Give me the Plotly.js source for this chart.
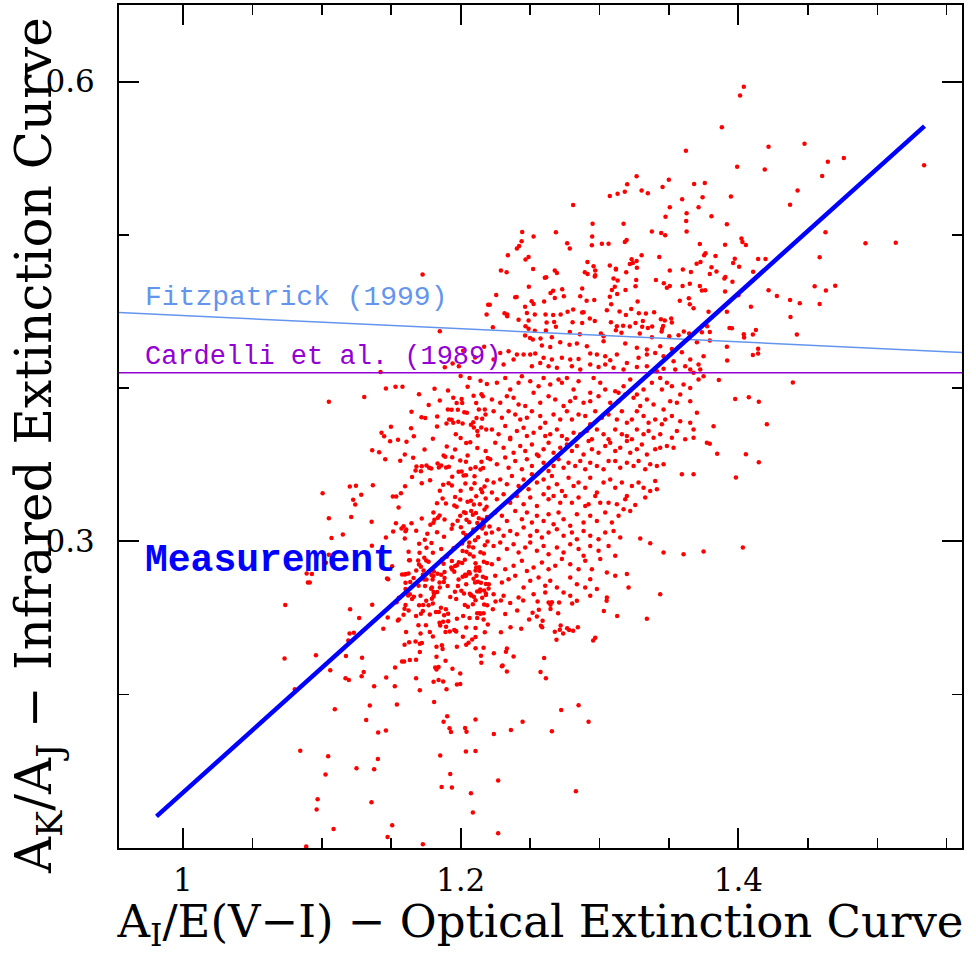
<!DOCTYPE html>
<html>
<head>
<meta charset="utf-8">
<script src="https://cdn.plot.ly/plotly-3.0.1.min.js"></script>
<style>html,body{margin:0;padding:0;background:#fff}#chart{width:976px;height:953px}</style>
</head>
<body>
<div id="chart"></div>
<script>
// ---- Data ----
const xRange = [0.954, 1.561];
const yRange = [0.10, 0.65];

// Fitzpatrick (1999) relation
const fitzX = [0.954, 1.561];
const fitzY = [0.4493, 0.4233];
// Cardelli et al. (1989) relation
const cardX = [0.954, 1.561];
const cardY = [0.410, 0.410];
// Measurement (fitted line)
const measX = [0.981, 1.534];
const measY = [0.1206, 0.571];

// individual stars [A_I/E(V-I), A_K/A_J]
const stars = [
[1.1726,.4741],[1.2198,.4545],[1.2187,.448],[1.185,.4371],
[1.3622,.5549],[1.3267,.5382],[1.3499,.536],[1.3199,.533],[1.3454,.5313],[1.3681,.5332],[1.3758,.5339],[1.3074,.5254],[1.313,.5269],[1.3182,.5282],[1.3303,.529],[1.3348,.5271],[1.3595,.5232],[1.3742,.5245],[1.281,.5195],[1.3506,.518],[1.3713,.518],[1.3475,.5119],[1.3627,.5141],[1.3624,.5091],[1.295,.5073],[1.3173,.5073],[1.3627,.5023],[1.2443,.5019],[1.2525,.4989],[1.2686,.5017],[1.2947,.4989],[1.3377,.5023],[1.3444,.5013],[1.3473,.4997],
[1.2439,.4958],[1.2421,.4928],[1.2405,.4912],[1.2767,.4945],[1.2786,.4912],[1.2945,.4932],[1.3017,.4943],[1.3065,.4943],[1.3182,.4954],[1.3195,.4967],[1.3722,.4941],[1.234,.4867],[1.2467,.4839],[1.2489,.4856],[1.3303,.4867],[1.343,.4856],[1.3753,.4867],[1.3763,.488],
[1.2913,.4824],[1.3231,.4841],[1.3267,.483],[1.3218,.4811],[1.324,.4817],[1.3074,.48],[1.3118,.478],[1.3118,.4774],[1.3269,.4786],[1.3506,.4767],[1.36,.4775],[1.3658,.4758],[1.3699,.4812],[1.3727,.4824],[1.229,.4767],[1.2331,.4756],[1.2522,.4778],[1.2678,.4767],[1.2693,.4752],[1.2894,.4756],[1.2914,.4745],[1.2957,.4795],[1.2969,.4767],[1.2969,.4736],[1.2966,.4728],[1.3192,.4756],[1.2606,.4721],[1.2616,.4723],[1.3101,.4715],[1.313,.4702],[1.3264,.4706],[1.3406,.4706],[1.3463,.4684],[1.3485,.4656],[1.3506,.4667],[1.3598,.4667],[1.365,.4682],[1.3722,.4667],[1.3737,.4637],[1.3761,.4639],
[1.2491,.4661],[1.2256,.4608],[1.2393,.4593],[1.2403,.4595],[1.2666,.4636],[1.2647,.4621],[1.2731,.4645],[1.2743,.4599],[1.2875,.465],[1.2861,.4599],[1.2962,.4576],[1.2907,.4571],[1.3089,.4641],[1.311,.4661],[1.3127,.4615],[1.3187,.4641],[1.3259,.4665],[1.3074,.4597],[1.3084,.4547],[1.3274,.4565],[1.3578,.4571],[1.3643,.4586],[1.365,.4547],[1.3677,.4521],[1.2511,.4567],[1.2525,.455],[1.2601,.4565],[1.2678,.4589],[1.2464,.4532],[1.221,.4545],
[1.2316,.4489],[1.2335,.448],[1.2335,.4469],[1.2477,.4491],[1.2534,.448],[1.2611,.448],[1.2666,.4478],[1.272,.448],[1.277,.4498],[1.281,.4513],[1.2875,.4493],[1.2885,.4495],[1.293,.4454],[1.2966,.4439],[1.3053,.4508],[1.3144,.45],[1.319,.4478],[1.3228,.4517],[1.3283,.4489],[1.3334,.4487],[1.3393,.4495],[1.3442,.445],[1.347,.4441],[1.3516,.4454],[1.3521,.4428],[1.2417,.4446],[1.2489,.4441],[1.2619,.4428],[1.2673,.4432],[1.2806,.443],[1.2875,.4426],
[1.3082,.443],[1.3125,.4404],[1.3118,.4378],[1.317,.4408],[1.3218,.4402],[1.3259,.4426],[1.3312,.4439],[1.3307,.44],[1.3348,.4393],[1.3379,.4402],[1.3451,.4387],[1.3458,.4406],[1.2232,.4397],[1.2467,.4404],[1.2489,.4387],[1.2534,.4374],[1.2614,.4376],[1.2686,.44],[1.2786,.4367],[1.2858,.4352],[1.301,.4356],[1.3029,.4339],[1.3158,.4361],[1.329,.4356],[1.3377,.4332],[1.3447,.4369],[1.3502,.4339],[1.3569,.4345],[1.3607,.4369],[1.3645,.4356],[1.3785,.4498],[1.3775,.4404],[1.3737,.4365],[1.2464,.4343],[1.25,.4328],[1.2575,.4324],[1.2657,.4332],
[1.4039,.5967],[1.4012,.591],[1.3881,.5702],[1.4217,.5575],[1.4476,.5595],[1.3991,.5444],[1.419,.5427],[1.4644,.5477],[1.4759,.5502],[1.5337,.5454],[1.4603,.5384],[1.4426,.529],[1.3946,.5251],[1.4372,.5197],[1.3806,.5121],[1.3917,.5069],[1.4022,.4976],[1.4029,.4954],[1.4054,.4934],[1.3904,.4936],[1.4627,.5017],[1.4915,.4945],[1.5133,.4949],[1.3835,.4863],[1.3806,.4789],[1.3794,.4745],[1.3974,.4845],[1.3962,.4817],[1.4005,.4793],[1.4142,.4843],[1.4195,.4843],[1.3842,.4762],[1.4106,.476],[1.3906,.4726],[1.3899,.4715],[1.3957,.4695],[1.4585,.4854],[1.3904,.463],[1.4,.4606],[1.4217,.4639],[1.4277,.4602],[1.4549,.4665],[1.463,.4637],[1.4697,.4669],[1.4372,.4576],[1.4442,.4554],[1.4585,.455],[1.409,.4532],[1.3917,.4498],[1.4375,.4465],[1.3936,.4393],[1.3953,.4391],[1.4126,.438],[1.4039,.4352],[1.4041,.433],[1.4104,.435],[1.4421,.435],[1.3794,.4367],
[1.3794,.4311],[1.3917,.4271],[1.4142,.4258],[1.4104,.4217],[1.4142,.4226],[1.3919,.418],[1.3859,.4054],[1.4392,.4037],[1.3977,.393],[1.4075,.3941],[1.4147,.3911],[1.3821,.3752],[1.4205,.3765],[1.3794,.3637],[1.3847,.3572],[1.4054,.3569],[1.4147,.3517],[1.3982,.3417],[1.4032,.2961],
[1.2251,.2609],[1.229,.2615],[1.2357,.2598],[1.245,.2615],[1.2554,.2609],[1.2633,.2602],[1.2647,.2587],[1.2657,.2604],[1.2709,.2602],[1.2803,.2596],[1.2837,.2613],[1.3051,.2613],[1.2232,.2557],[1.2321,.2526],[1.2407,.255],[1.2518,.2535],[1.2563,.2555],[1.2549,.2511],[1.2647,.2559],[1.2702,.2531],[1.3031,.2546],[1.3127,.2513],[1.3341,.2496],[1.2493,.2491],[1.259,.2483],[1.2359,.2441],[1.2436,.2431],[1.2578,.245],[1.2587,.2441],[1.272,.2452],[1.2714,.2424],[1.2767,.2433],[1.2781,.2422],[1.281,.2417],[1.2844,.2441],[1.2678,.2411],[1.2738,.24],[1.229,.2407],[1.269,.2359],[1.2969,.2372],[1.2954,.2353],
[1.2239,.227],[1.2326,.2281],[1.2333,.2302],[1.2381,.225],[1.2601,.2239],[1.2297,.2185],[1.2302,.2191],[1.2333,.2152],[1.2575,.2148],[1.2614,.2107],[1.2724,.19],[1.2849,.1931],[1.2446,.1824],[1.2921,.1824],[1.2239,.1744],[1.2362,.177],[1.2657,.1761],[1.227,.144],[1.283,.137],[1.227,.1096],
[1.0891,.2791],[1.0929,.2787],[1.09,.2733],[1.103,.2861],[1.1478,.2754],[1.0737,.2585],[1.0732,.2237],[1.0958,.2257],[1.1061,.2159],[1.0806,.2035],[1.1204,.2557],[1.1269,.25],[1.12,.24],[1.1231,.2405],[1.1191,.2353],[1.1174,.2252],[1.129,.2242],[1.1363,.2587],[1.1443,.2431],[1.1475,.2504],[1.1548,.2485],[1.1555,.2491],[1.1589,.2522],[1.1596,.2561],[1.1625,.255],[1.1607,.2409],[1.1629,.2343],[1.1596,.2326],[1.1696,.2454],[1.1711,.24],[1.1706,.2333],[1.1679,.2229],[1.1634,.2226],[1.1578,.2216],[1.1593,.2216],[1.1528,.2177],[1.1464,.2113],[1.1302,.2148],[1.1287,.212],[1.1171,.2107],[1.1195,.2096],
[1.1377,.2055],[1.1526,.2055],[1.1679,.2107],[1.1706,.2029],[1.1094,.1905],[1.1346,.1929],[1.1541,.1937],[1.132,.1835],[1.1406,.1753],[1.1462,.1766],[1.1809,.1952],[1.1805,.2085],[1.1874,.2087],[1.1898,.2035],[1.1997,.2139],[1.1973,.2066],[1.1997,.207],[1.1941,.217],[1.1891,.2222],[1.1826,.2248],[1.1817,.2177],[1.1841,.2181],[1.1826,.2164],[1.1841,.2096],[1.18,.238],[1.1826,.2313],[1.1865,.2322],[1.187,.2298],[1.1721,.2337],[1.1706,.2278],
[1.1903,.1859],[1.1877,.1824],[1.192,.1781],[1.193,.1757],[1.2032,.1783],[1.2042,.1759],[1.2107,.1839],[1.2038,.1629],[1.2107,.1633],[1.1853,.1603],[1.1404,.1581],[1.125,.152],[1.1377,.1513],[1.1046,.1598],[1.1027,.1479],[1.0845,.1635],[1.097,.1318],[1.0963,.1251],[1.1358,.1298],[1.1085,.1124],[1.1507,.1148],[1.1474,.1072],[1.1728,.1024],[1.0888,.1009],[1.1925,.1483],[1.1863,.1398],[1.1937,.1394],[1.2074,.1357],[1.2088,.1231],
[1.1968,.2413],[1.1973,.2313],[1.2107,.2304],[1.2165,.2307],[1.2146,.2255],[1.2149,.2209],[1.204,.2439],[1.2107,.2435],[1.2165,.2491],[1.2119,.25],[1.2143,.2529],[1.2119,.2531],[1.2064,.25],[1.2018,.2513],[1.1973,.2496],[1.1966,.2415],[1.1954,.2422],[1.1922,.2413],[1.1874,.2476],[1.191,.248],[1.1848,.247],[1.191,.2529],[1.1894,.2557],[1.1881,.2518],[1.1858,.2568],[1.1843,.2539],[1.1822,.2539],[1.18,.2596],[1.1793,.2626],[1.1752,.2613],[1.1769,.2583],[1.173,.2585],[1.1714,.2529],[1.1728,.2546],[1.1679,.2513],[1.175,.2454],[1.1778,.2409],[1.1675,.2348],
[1.165,.2624],[1.1663,.264],[1.1622,.2648],[1.1634,.2656],[1.1603,.2689],[1.1555,.2633],[1.1539,.2604],[1.1603,.2731],[1.1578,.2785],[1.1598,.2785],[1.1507,.2839],[1.1637,.2735],[1.1697,.2711],[1.1711,.2646],[1.1738,.2752],[1.1776,.28],[1.1807,.2804],[1.1834,.2789],[1.1754,.2752],[1.1798,.2752],[1.1791,.278],[1.1879,.2735],[1.1884,.28],[1.1954,.2802],[1.1932,.283],[1.1973,.2845],[1.2011,.2859],[1.2032,.2783],[1.2042,.2783],[1.2014,.277],[1.2036,.2774],[1.2093,.2757],[1.2104,.2733],[1.2005,.2679],[1.1959,.2672],[1.2066,.2659],[1.2074,.265],[1.2119,.2674],[1.2138,.2674],[1.2169,.268],[1.1968,.2624],[1.203,.2585],[1.2052,.2574],[1.2088,.2591],[1.2107,.2617],[1.2155,.2633],[1.2169,.2589],[1.2191,.2583],[1.2138,.2531],[1.2165,.2531],
[1.2146,.2731],[1.2182,.2761],[1.2182,.2722],[1.2107,.2811],[1.2133,.2832],[1.1884,.2761],[1.2066,.2791],[1.1634,.2878],[1.1714,.2835],[1.1752,.2876],[1.1865,.2883],[1.1937,.2872],[1.1625,.2791],[1.1728,.2783],[1.1793,.27],[1.1805,.267],[1.1809,.2659],[1.1831,.267],[1.1848,.2733],[1.1744,.2709],[1.1603,.2585],[1.1701,.2583],[1.1778,.2524],[1.1853,.2452],[1.1891,.2409],[1.1895,.2444],[1.2016,.2378],[1.204,.2326],[1.2057,.2339],[1.2083,.2361],[1.2107,.2376],[1.2174,.2407],[1.2196,.2459],[1.2203,.272],[1.2182,.2661],
[1.1423,.4106],[1.1886,.4136],[1.1942,.4161],[1.1987,.4143],[1.1462,.3998],[1.1531,.4009],[1.1581,.4009],[1.1812,.3996],[1.1909,.3985],[1.2064,.4067],[1.2143,.4048],[1.2189,.4028],[1.2093,.395],[1.216,.3947],[1.1947,.3937],[1.2007,.393],[1.1971,.3904],[1.2011,.3904],[1.2112,.3904],[1.1051,.3911],[1.1306,.3943],[1.1646,.3847],[1.1718,.381],[1.1745,.3806],[1.1831,.3815],[1.1908,.3861],[1.1935,.3859],[1.1917,.3796],[1.1935,.3794],[1.1898,.377],[1.1947,.3774],[1.1983,.3781],[1.2014,.377],[1.2026,.3843],[1.2045,.3839],[1.2074,.3761],[1.2091,.3778],[1.2114,.3806],[1.2155,.38],[1.2131,.3861],[1.2174,.3861],[1.2179,.3828],[1.2095,.3743],[1.2148,.3743],[1.2124,.3691],[1.204,.3643],[1.2069,.3648],[1.2184,.373],
[1.1498,.3748],[1.1643,.3739],[1.1663,.3687],[1.143,.3709],[1.1449,.3687],[1.1549,.3663],[1.1492,.3654],[1.1363,.3595],[1.1413,.3582],[1.1457,.3537],[1.1598,.3567],[1.1565,.3526],[1.1658,.3546],[1.1682,.3489],[1.172,.3491],[1.1754,.3496],[1.1773,.3481],[1.1675,.3463],[1.1714,.3458],[1.1788,.3476],[1.1843,.3483],[1.186,.3496],[1.1877,.3561],[1.1889,.3552],[1.1895,.3483],[1.1915,.3487],[1.1834,.3509],[1.1939,.355],[1.1997,.3528],[1.2038,.352],[1.1985,.3454],[1.2007,.3456],[1.2038,.3432],[1.2021,.343],[1.1939,.3422],[1.1874,.337],[1.1913,.338],[1.1937,.3365],[1.2071,.3474],[1.2107,.3484],[1.2143,.3469],[1.2162,.348],[1.21,.3426],[1.2034,.3378],[1.2146,.3341],[1.2172,.3359],[1.2076,.3344],[1.2112,.3295],[1.2155,.3321],
[1.1368,.3367],[1.1202,.3359],[1.1246,.3363],[1.1284,.3304],[1.1226,.3272],[1.1241,.3241],[1.1512,.3293],[1.1536,.3293],[1.157,.3315],[1.1553,.3222],[1.1006,.3315],[1.1051,.3152],[1.1212,.3159],[1.1359,.3128],[1.1152,.3046],[1.107,.3022],[1.1361,.2972],[1.1462,.3026],[1.1514,.3065],[1.1534,.3119],[1.1589,.31],[1.1603,.3067],[1.1608,.3078],[1.1574,.3085],[1.1598,.302],[1.1646,.3119],[1.1701,.2985],[1.1742,.3011],[1.1754,.2959],[1.1804,.3189],[1.1811,.3141],[1.1782,.3109],[1.1804,.3122],[1.1848,.317],[1.1836,.3155],[1.1884,.3143],[1.1942,.3109],[1.1894,.3248],[1.1954,.3235],[1.1971,.3226],[1.1997,.3274],[1.205,.3259],[1.2074,.3265],[1.2095,.3241],
[1.2036,.3185],[1.2076,.3198],[1.2088,.3174],[1.211,.3185],[1.1997,.3168],[1.2024,.3191],[1.1978,.3135],[1.2042,.3141],[1.2062,.3126],[1.2002,.3093],[1.2131,.3152],[1.2158,.3141],[1.2172,.3209],[1.2187,.3226],[1.2138,.3243],[1.1935,.3083],[1.2019,.3057],[1.2091,.3078],[1.2155,.3085],[1.2167,.3102],[1.2208,.3098],[1.2182,.3052],[1.2126,.3028],[1.2104,.3008],[1.2062,.2993],[1.2059,.2967],[1.2011,.2987],[1.1949,.2956],[1.2014,.2937],[1.2042,.2933],[1.2066,.2917],[1.2093,.2902],[1.2143,.293],[1.2167,.2922],[1.2174,.2976],[1.2193,.3],
[1.2167,.2868],[1.2107,.2857],[1.2112,.283],[1.2136,.2809],[1.1987,.2865],[1.1939,.2817],[1.1877,.2855],[1.186,.2783],[1.1793,.2817],[1.1804,.2774],[1.1733,.2811],[1.1738,.2894],[1.1769,.2868],[1.18,.2926],[1.1704,.2926],[1.1694,.2876],[1.1625,.2933],[1.1629,.2878],[1.1606,.2787],[1.1661,.2761],[1.147,.2759],[1.0914,.2733],[1.1051,.2913],[1.1985,.2752],[1.204,.272],[1.2114,.2776],[1.2124,.2737],[1.2141,.2687],[1.2024,.2661],[1.2076,.2648],[1.2095,.264],[1.1906,.2709],[1.1925,.2637],[1.1787,.2691],[1.1805,.2641],[1.2182,.265],[1.2201,.2693],
[1.2169,.4271],[1.2104,.42],[1.2018,.4245],
[1.1965,.370],[1.200,.3675],[1.212,.361],[1.218,.359],[1.205,.356],[1.190,.362],[1.196,.360],[1.215,.352],[1.2195,.3545],[1.210,.338],[1.219,.340],[1.200,.333],[1.196,.329],[1.218,.328],[1.187,.328],[1.185,.333],[1.212,.312],[1.219,.316],[1.204,.304],[1.188,.303],[1.183,.306],[1.179,.299],[1.190,.290],[1.186,.295],[1.203,.288],[1.209,.296],[1.196,.284],[1.219,.286],[1.206,.280],[1.198,.271],[1.216,.277],[1.185,.270],[1.170,.285],[1.168,.281],[1.176,.305],[1.172,.315],[1.168,.307],[1.183,.325],[1.178,.340],[1.172,.338],[1.165,.342],[1.160,.336],[1.161,.365],[1.174,.360],[1.180,.367],[1.183,.375],[1.177,.389],[1.185,.392],[1.170,.396],[1.205,.401],[1.215,.396],[1.200,.408],[1.198,.386],[1.212,.372],
[1.252,.4317],[1.2585,.4278],[1.2645,.4269],[1.2717,.43],[1.2784,.4284],[1.2837,.4291],[1.2909,.4274],[1.3029,.4306],[1.3185,.4291],[1.3269,.4263],[1.3341,.4252],[1.3437,.4274],[1.3521,.4256],[1.3593,.4235],[1.3701,.43],[1.3749,.4209],[1.3653,.4187],
[1.2285,.423],[1.2345,.4241],[1.2405,.4219],[1.2453,.4219],[1.2501,.4219],[1.2537,.4226],[1.2597,.4198],[1.2657,.4187],[1.2729,.4198],[1.2789,.4187],[1.2849,.4191],[1.2933,.4226],[1.2981,.4219],[1.3041,.4209],[1.3077,.4182],[1.3125,.4219],[1.3197,.4165],[1.3281,.4198],[1.3341,.4219],[1.3401,.423],[1.3461,.4209],[1.3533,.4176],[1.3617,.4143],[1.3713,.4154],[1.3725,.4122],
[1.2237,.4187],[1.2309,.4154],[1.2381,.4187],[1.2513,.4143],[1.2573,.4165],[1.2633,.4143],[1.2693,.4133],[1.2801,.4143],[1.2861,.4122],[1.2933,.4154],[1.2993,.4139],[1.3041,.4154],[1.3101,.4133],[1.3173,.4122],[1.3269,.4139],[1.3341,.4143],[1.3413,.4111],[1.3461,.4126],[1.3545,.4122],[1.3653,.4122],[1.3677,.41],
[1.2261,.4035],[1.2321,.4067],[1.2357,.3991],[1.2417,.4035],[1.2441,.4078],[1.2501,.4046],[1.2561,.4013],[1.2597,.4067],[1.2645,.4024],[1.2705,.4057],[1.2729,.4035],[1.2765,.4067],[1.2813,.3991],[1.2849,.4046],[1.2933,.397],[1.2957,.4067],[1.3005,.4035],[1.3041,.3991],[1.3113,.398],[1.3137,.397],[1.3173,.4013],[1.3221,.4057],[1.3269,.3959],[1.3317,.3991],[1.3377,.4035],[1.3437,.4067],[1.3449,.3991],[1.3485,.4035],[1.3521,.4013],[1.3581,.3959],[1.3605,.4024],[1.3653,.4002],[1.3713,.4057],[1.3749,.4078],
[1.2225,.3926],[1.2285,.3905],[1.2333,.3948],[1.2381,.3937],[1.2417,.3894],[1.2465,.3883],[1.2525,.397],[1.2573,.3905],[1.2633,.3948],[1.2681,.3926],[1.2741,.3883],[1.2789,.3915],[1.2825,.3937],[1.2885,.3905],[1.2933,.3915],[1.2993,.3948],[1.3077,.3905],[1.3137,.3915],[1.3185,.3959],[1.3245,.3937],[1.3293,.3883],[1.3341,.3926],[1.3389,.3894],[1.3461,.3861],[1.3509,.3915],[1.3557,.3905],[1.3653,.3915],[1.3701,.384],
[1.2237,.385],[1.2297,.3807],[1.2345,.385],[1.2393,.3829],[1.2429,.3796],[1.2477,.3807],[1.2513,.385],[1.2573,.3818],[1.2609,.3775],[1.2669,.3829],[1.2717,.3796],[1.2765,.385],[1.2801,.3796],[1.2849,.3829],[1.2897,.3818],[1.2933,.3764],[1.2969,.385],[1.3017,.3807],[1.3065,.3829],[1.3125,.3796],[1.3161,.385],[1.3197,.3775],[1.3233,.3796],[1.3269,.385],[1.3317,.3818],[1.3353,.3775],[1.3401,.3796],[1.3449,.3764],[1.3473,.3796],[1.3521,.3818],[1.3581,.3785],[1.3653,.3775],[1.3677,.3731],
[1.2225,.3731],[1.2273,.3699],[1.2321,.3753],[1.2357,.3677],[1.2405,.372],[1.2453,.3742],[1.2477,.3688],[1.2525,.371],[1.2573,.3742],[1.2609,.3688],[1.2645,.3699],[1.2693,.3731],[1.2729,.3688],[1.2765,.3666],[1.2813,.371],[1.2861,.3699],[1.2909,.372],[1.2945,.3666],[1.2981,.3731],[1.3029,.3699],[1.3065,.3666],[1.3113,.3731],[1.3161,.3699],[1.3197,.3688],[1.3233,.3666],[1.3269,.3731],[1.3317,.3699],[1.3353,.372],[1.3389,.3677],[1.3437,.3699],[1.3521,.3677],[1.3557,.372],[1.3617,.3666],[1.3677,.3677],[1.3773,.3644],
[1.2249,.3644],[1.2309,.3612],[1.2357,.3666],[1.2381,.3579],[1.2429,.3623],[1.2465,.359],[1.2513,.3633],[1.2549,.3568],[1.2597,.3601],[1.2633,.3644],[1.2669,.3579],[1.2717,.3612],[1.2765,.3633],[1.2801,.359],[1.2837,.3623],[1.2885,.3568],[1.2921,.3655],[1.2945,.3601],[1.2993,.3579],[1.3041,.3623],[1.3077,.3644],[1.3113,.359],[1.3149,.3612],[1.3197,.3655],[1.3221,.3579],[1.3269,.3601],[1.3305,.3633],[1.3341,.3568],[1.3401,.3601],[1.3437,.3612],[1.3485,.3623],[1.3533,.3612],
[1.2213,.3536],[1.2261,.3503],[1.2321,.3547],[1.2345,.3481],[1.2393,.3525],[1.2441,.3471],[1.2477,.3536],[1.2513,.3492],[1.2561,.3557],[1.2597,.3514],[1.2633,.346],[1.2669,.3492],[1.2705,.3536],[1.2741,.3481],[1.2777,.3514],[1.2825,.3492],[1.2861,.3525],[1.2897,.3471],[1.2933,.3514],[1.2981,.3492],[1.3029,.3471],[1.3065,.3525],[1.3113,.3525],[1.3149,.3481],[1.3197,.3514],[1.3245,.3492],[1.3281,.3525],[1.3329,.3471],[1.3365,.3503],[1.3413,.3492],[1.3461,.3503],[1.3593,.3438],[1.3677,.3438],
[1.2237,.3384],[1.2285,.3405],[1.2333,.3373],[1.2369,.3427],[1.2417,.3362],[1.2453,.3405],[1.2489,.334],[1.2513,.3438],[1.2549,.3384],[1.2597,.3405],[1.2633,.3351],[1.2657,.3427],[1.2693,.3373],[1.2729,.3329],[1.2777,.3416],[1.2813,.3362],[1.2849,.3384],[1.2897,.3351],[1.2933,.3416],[1.2981,.3319],[1.3029,.3384],[1.3077,.3405],[1.3113,.3351],[1.3161,.3384],[1.3197,.3297],[1.3233,.3362],[1.3281,.3384],[1.3317,.3351],[1.3365,.3329],[1.3401,.3395],[1.3413,.334],
[1.2225,.3319],[1.2261,.3275],[1.2309,.3308],[1.2357,.3253],[1.2405,.3297],[1.2453,.3243],[1.2501,.3286],[1.2549,.3232],[1.2597,.3308],[1.2633,.3275],[1.2669,.3297],[1.2717,.3253],[1.2753,.3297],[1.2801,.3253],[1.2849,.3286],[1.2897,.3232],[1.2921,.3243],[1.2969,.3297],[1.3005,.3253],[1.3065,.3253],[1.3125,.3243],[1.3185,.3275],[1.3257,.3238],[1.3329,.3286],
[1.2249,.3189],[1.2297,.3167],[1.2333,.3134],[1.2393,.3199],[1.2441,.3145],[1.2477,.3189],[1.2513,.3123],[1.2549,.3167],[1.2597,.3134],[1.2633,.3178],[1.2669,.3113],[1.2705,.3189],[1.2741,.3145],[1.2789,.3102],[1.2837,.3178],[1.2885,.3123],[1.2933,.3167],[1.2981,.3134],[1.3041,.3189],[1.3089,.3123],[1.3137,.3167],[1.3173,.321],[1.3221,.3199],
[1.2225,.3058],[1.2273,.308],[1.2309,.3037],[1.2357,.3069],[1.2405,.3047],[1.2453,.3091],[1.2501,.3037],[1.2549,.3069],[1.2585,.3026],[1.2633,.3058],[1.2693,.308],[1.2741,.3037],[1.2801,.3058],[1.2837,.3015],[1.2885,.3069],[1.2933,.3037],[1.2993,.3015],[1.3041,.3058],[1.3101,.3069],[1.3149,.3026],[1.3293,.3019],[1.3365,.2989],[1.3461,.2928],[1.3605,.2917],[1.3749,.2934],
[1.2237,.2971],[1.2285,.2993],[1.2333,.295],[1.2381,.2982],[1.2417,.2928],[1.2465,.2961],[1.2501,.2993],[1.2549,.2939],[1.2597,.2971],[1.2633,.2917],[1.2693,.2961],[1.2741,.2928],[1.2789,.2982],[1.2849,.295],[1.2885,.2906],[1.2933,.2971],[1.2993,.2939],[1.3065,.2971],[1.3113,.2906],
[1.2225,.2852],[1.2273,.2885],[1.2321,.2819],[1.2381,.2841],[1.2441,.2874],[1.2477,.2808],[1.2525,.283],[1.2585,.2863],[1.2633,.2819],[1.2681,.2841],[1.2729,.2885],[1.2789,.2852],[1.2849,.2819],[1.2897,.2874],[1.2945,.2819],[1.3005,.2885],[1.3053,.2798],[1.3113,.2776],[1.3197,.2787],
[1.2249,.2776],[1.2297,.2732],[1.2345,.2754],[1.2393,.2776],[1.2453,.27],[1.2501,.2743],[1.2561,.2765],[1.2609,.2711],[1.2645,.2743],[1.2693,.27],[1.2741,.2667],[1.2789,.2765],[1.2837,.2721],[1.2897,.27],[1.2933,.2754],[1.2981,.2689],[1.3209,.27],
[1.2237,.2656],[1.2309,.2645],[1.2417,.2634],[1.2525,.2656],[1.2609,.2667],[1.2789,.2645],[1.2933,.2645],[1.3053,.2634],[1.3437,.2656]
];
const starX = stars.map(p => p[0]);
const starY = stars.map(p => p[1]);

const xTitle = 'A<sub>I</sub>/E(V\u2212I) \u2212 Optical Extinction Curve';
const yTitle = 'A<sub>K</sub>/A<sub>J</sub> \u2212 Infrared Extinction Curve';
const labels = ['Fitzpatrick (1999)', 'Cardelli et al. (1989)', 'Measurement'];

const traces = [
  {x: starX, y: starY, type: 'scatter', mode: 'markers',
   marker: {color: '#ff0000', size: 4.5}, hoverinfo: 'skip', showlegend: false},
  {x: fitzX, y: fitzY, type: 'scatter', mode: 'lines',
   line: {color: '#6495ed', width: 1.5}, showlegend: false},
  {x: cardX, y: cardY, type: 'scatter', mode: 'lines',
   line: {color: '#9400d3', width: 1.5}, showlegend: false},
  {x: measX, y: measY, type: 'scatter', mode: 'lines',
   line: {color: '#0000ff', width: 4.5}, showlegend: false}
];

const axisFont = {family: 'DejaVu Serif', size: 31, color: '#000'};
const common = {
  showline: true, linewidth: 2, linecolor: '#000', mirror: 'allticks',
  ticks: 'inside', ticklen: 20, tickwidth: 2, tickcolor: '#000',
  showgrid: false, zeroline: false, tickfont: axisFont
};

const layout = {
  width: 976, height: 953,
  margin: {l: 119, r: 14, t: 5, b: 105},
  paper_bgcolor: '#fff', plot_bgcolor: '#fff',
  showlegend: false,
  xaxis: Object.assign({}, common, {
    range: xRange, tick0: 1, dtick: 0.2, ticklabelstandoff: 4,
    minor: {dtick: 0.05, ticks: 'inside', ticklen: 10, tickwidth: 1.5, tickcolor: '#000', showgrid: false},
    title: {text: xTitle, font: {family: 'DejaVu Serif', size: 45, color: '#000'}, standoff: 4}
  }),
  yaxis: Object.assign({}, common, {
    range: yRange, tick0: 0, dtick: 0.3, tickformat: '.1f', ticklabelstandoff: 16,
    minor: {dtick: 0.1, ticks: 'inside', ticklen: 10, tickwidth: 1.5, tickcolor: '#000', showgrid: false}
  }),
  annotations: [
    {text: yTitle, xref: 'paper', yref: 'paper', x: -0.0960, y: 0.4769, xanchor: 'center', yanchor: 'middle',
     textangle: -90, showarrow: false, font: {family: 'DejaVu Serif', size: 50, color: '#000'}},
    {text: labels[0], xref: 'paper', yref: 'paper', x: 0.0285, y: 0.6536, xanchor: 'left', yanchor: 'middle',
     showarrow: false, font: {family: 'Liberation Mono', size: 28, color: '#6495ed'}},
    {text: labels[1], xref: 'paper', yref: 'paper', x: 0.0285, y: 0.5824, xanchor: 'left', yanchor: 'middle',
     showarrow: false, font: {family: 'Liberation Mono', size: 27, color: '#9400d3'}},
    {text: '<b>' + labels[2] + '</b>', xref: 'paper', yref: 'paper', x: 0.0285, y: 0.3405, xanchor: 'left', yanchor: 'middle',
     showarrow: false, font: {family: 'Liberation Mono', size: 38, color: '#0000ff'}}
  ]
};

Plotly.newPlot('chart', traces, layout, {displayModeBar: false, staticPlot: true});
</script>
</body>
</html>
